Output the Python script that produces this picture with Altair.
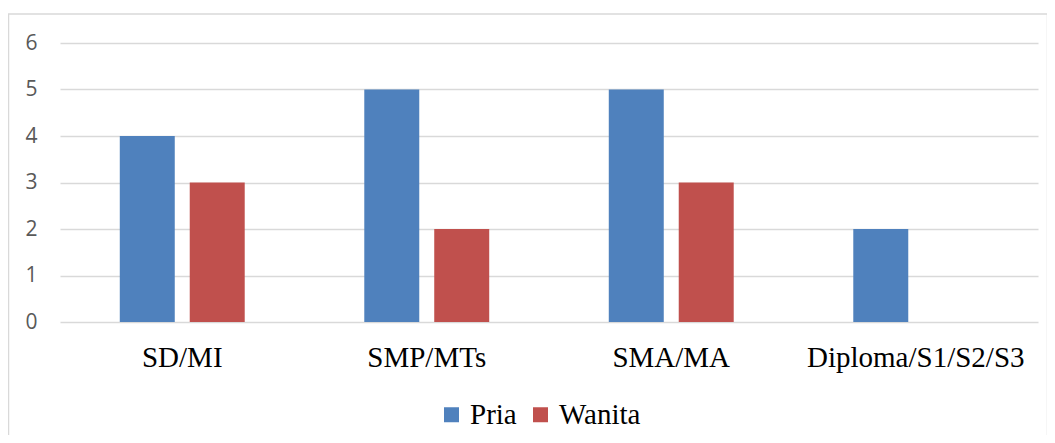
import altair as alt
import pandas as pd

categories = ["SD/MI", "SMP/MTs", "SMA/MA", "Diploma/S1/S2/S3"]
series = ["Pria", "Wanita"]
pria = [4, 5, 5, 2]
wanita = [3, 2, 3, 0]
y_ticks = [0, 1, 2, 3, 4, 5, 6]
colors = ["#4f81bd", "#c0504d"]

rows = []
for c, p, w in zip(categories, pria, wanita):
    rows.append({"cat": c, "series": "Pria", "value": p})
    rows.append({"cat": c, "series": "Wanita", "value": w})
df = pd.DataFrame(rows)

SERIF = "'Liberation Serif', 'Times New Roman', serif"

bars = alt.Chart(df).mark_bar().encode(
    x=alt.X("cat:N", sort=categories, title=None,
            scale=alt.Scale(paddingInner=0.489, paddingOuter=0.2445),
            axis=alt.Axis(labelAngle=0, labelFont=SERIF, labelFontSize=29, labelLimit=0,
                          labelColor="#000000", labelPadding=21, ticks=False, domain=False,
                          grid=False)),
    xOffset=alt.XOffset("series:N", sort=series,
                        scale=alt.Scale(paddingInner=0.214, paddingOuter=0)),
    y=alt.Y("value:Q", title=None,
            scale=alt.Scale(domain=[0, 6], nice=False),
            axis=alt.Axis(values=y_ticks, labelFont="Open Sans", labelFontSize=21,
                          labelColor="#595959", labelPadding=23, ticks=False, domain=False,
                          grid=True, gridColor="#d9d9d9", gridWidth=1.3)),
    color=alt.Color("series:N", sort=series,
                    scale=alt.Scale(domain=series, range=colors),
                    legend=alt.Legend(title=None, orient="none", legendX=377, legendY=357,
                                      direction="horizontal", symbolType="square",
                                      symbolSize=225, symbolStrokeWidth=0,
                                      labelFont=SERIF, labelFontSize=29, labelLimit=0,
                                      labelColor="#000000", labelOffset=4,
                                      columnPadding=9, padding=0)),
)

border = alt.Chart(alt.Data(values=[{}])).mark_rect(
    fillOpacity=0, stroke="#d9d9d9", strokeWidth=1.5
).encode(
    x=alt.value(-51.5), x2=alt.value(987.5), y=alt.value(-29), y2=alt.value(500)
)

chart = alt.layer(border, bars).properties(
    width=978, height=279,
    autosize=alt.AutoSizeParams(type="none"),
    padding={"left": 52, "top": 35, "right": 9, "bottom": 113},
).configure_view(stroke=None)

chart.save("out.html", embed_options={"renderer": "svg", "actions": False})
